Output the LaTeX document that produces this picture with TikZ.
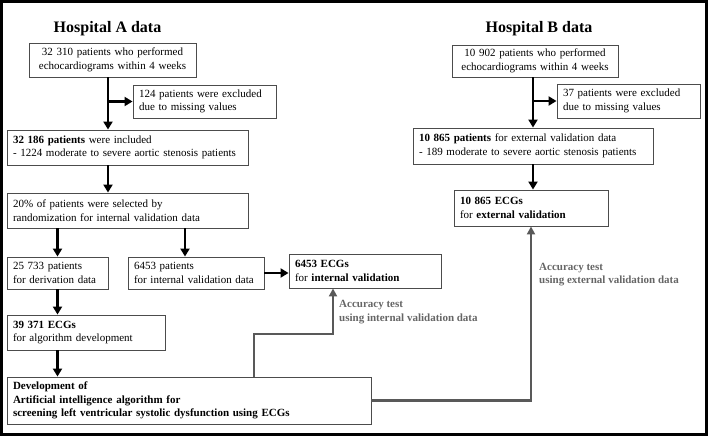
\documentclass[tikz,border=0pt]{standalone}
\usepackage{fontspec}
\setmainfont{Liberation Serif}
\usetikzlibrary{arrows.meta}

\begin{document}
\begin{tikzpicture}[x=1pt,y=1pt,
  box/.style={draw=black!70, line width=0.9pt, fill=white, inner xsep=6pt, inner ysep=0pt, align=left, font=\fontsize{11}{13.5}\selectfont},
  heading/.style={font=\fontsize{16}{19}\selectfont\bfseries},
  testnote/.style={text=black!60, anchor=west, align=left, inner sep=0pt, font=\fontsize{11}{13.5}\selectfont\bfseries},
  flow/.style={line width=2.8pt, -{Triangle[length=8pt,width=9pt]}},
  testflow/.style={color=black!65, line width=2.8pt, -{Triangle[length=8pt,width=8pt]}}]
\useasboundingbox (0.000000, 0.000000) rectangle (709.000000, -436.000000);
% Drawing frame
\draw[line width=2.5pt] (1.500000, -1.500000) rectangle (706.500000, -434.500000);
% Done with frame; drawing headings
\node[heading] (headA) at (107.500000, -29.000000) {Hospital A data};
\node[heading] (headB) at (539.000000, -29.000000) {Hospital B data};
% Done with headings; drawing Hospital A boxes
\node[box, align=center, minimum width=167pt, minimum height=34pt, text width=155pt] (startA) at (112.500000, -60.000000) {32 310 patients who performed\\echocardiograms within 4 weeks};
\node[box, minimum width=143pt, minimum height=33pt, text width=131pt] (exclA) at (204.500000, -101.500000) {124 patients were excluded\\due to missing values};
\node[box, minimum width=241pt, minimum height=35pt, text width=229pt] (inclA) at (127.500000, -147.500000) {\textbf{32 186 patients} were included\\- 1224 moderate to severe aortic stenosis patients};
\node[box, minimum width=241pt, minimum height=35pt, text width=229pt] (randA) at (127.500000, -210.500000) {20\% of patients were selected by\\randomization for internal validation data};
\node[box, minimum width=101pt, minimum height=32pt, text width=89pt] (deriv) at (57.500000, -273.000000) {25 733 patients\\for derivation data};
\node[box, minimum width=136pt, minimum height=32pt, text width=124pt] (intpat) at (196.000000, -273.000000) {6453 patients\\for internal validation data};
\node[box, minimum width=152pt, minimum height=34pt, text width=140pt] (intecg) at (365.000000, -271.000000) {\textbf{6453 ECGs}\\for \textbf{internal validation}};
\node[box, minimum width=158pt, minimum height=35pt, text width=146pt] (devecg) at (86.000000, -332.500000) {\textbf{39 371 ECGs}\\for algorithm development};
\node[box, font=\fontsize{11}{13.5}\selectfont\bfseries, minimum width=364pt, minimum height=47pt, text width=352pt] (aialgo) at (189.000000, -400.500000) {Development of\\Artificial intelligence algorithm for\\screening left ventricular systolic dysfunction using ECGs};
% Done with Hospital A boxes; drawing Hospital B boxes
\node[box, align=center, minimum width=166pt, minimum height=32pt, text width=154pt] (startB) at (535.000000, -61.000000) {10 902 patients who performed\\echocardiograms within 4 weeks};
\node[box, minimum width=143pt, minimum height=34pt, text width=131pt] (exclB) at (628.500000, -101.000000) {37 patients were excluded\\due to missing values};
\node[box, minimum width=240pt, minimum height=36pt, text width=228pt] (extpat) at (533.000000, -146.000000) {\textbf{10 865 patients} for external validation data\\- 189 moderate to severe aortic stenosis patients};
\node[box, minimum width=154pt, minimum height=36pt, text width=142pt] (extecg) at (531.000000, -208.000000) {\textbf{10 865 ECGs}\\for \textbf{external validation}};
% Done with boxes; drawing black arrows
\coordinate (colA) at (108.000000, 0.000000);
\coordinate (colI) at (185.000000, 0.000000);
\coordinate (colB) at (533.000000, 0.000000);
\draw[flow] (startA.south -| colA) -- (inclA.north -| colA);
\draw[flow] (colA |- exclA.west) -- (exclA.west);
\draw[flow] (inclA.south -| colA) -- (randA.north -| colA);
\draw[flow] (randA.south -| deriv.north) -- (deriv.north);
\draw[flow] (randA.south -| colI) -- (intpat.north -| colI);
\draw[flow] (intpat.east) -- (intpat.east -| intecg.west);
\draw[flow] (deriv.south) -- (devecg.north -| deriv.south);
\draw[flow] (devecg.south -| deriv.south) -- (aialgo.north -| deriv.south);
\draw[flow] (startB.south -| colB) -- (extpat.north -| colB);
\draw[flow] (colB |- exclB.west) -- (exclB.west);
\draw[flow] (extpat.south -| colB) -- (extecg.north -| colB);
% Done with black arrows; drawing accuracy tests
\coordinate (intturn) at (254.000000, -334.000000);
\coordinate (intup) at (333.000000, -334.000000);
\draw[testflow] (aialgo.north -| intturn) -- (intturn) -- (intup) -- (intecg.south -| intup);
\draw[testflow] (aialgo.east) -| (extecg.south);
\node[testnote] (intnote) at (339.000000, -312.000000) {Accuracy test\\using internal validation data};
\node[testnote] (extnote) at (539.000000, -274.500000) {Accuracy test\\using external validation data};
% Done with accuracy tests
\end{tikzpicture}
\end{document}
